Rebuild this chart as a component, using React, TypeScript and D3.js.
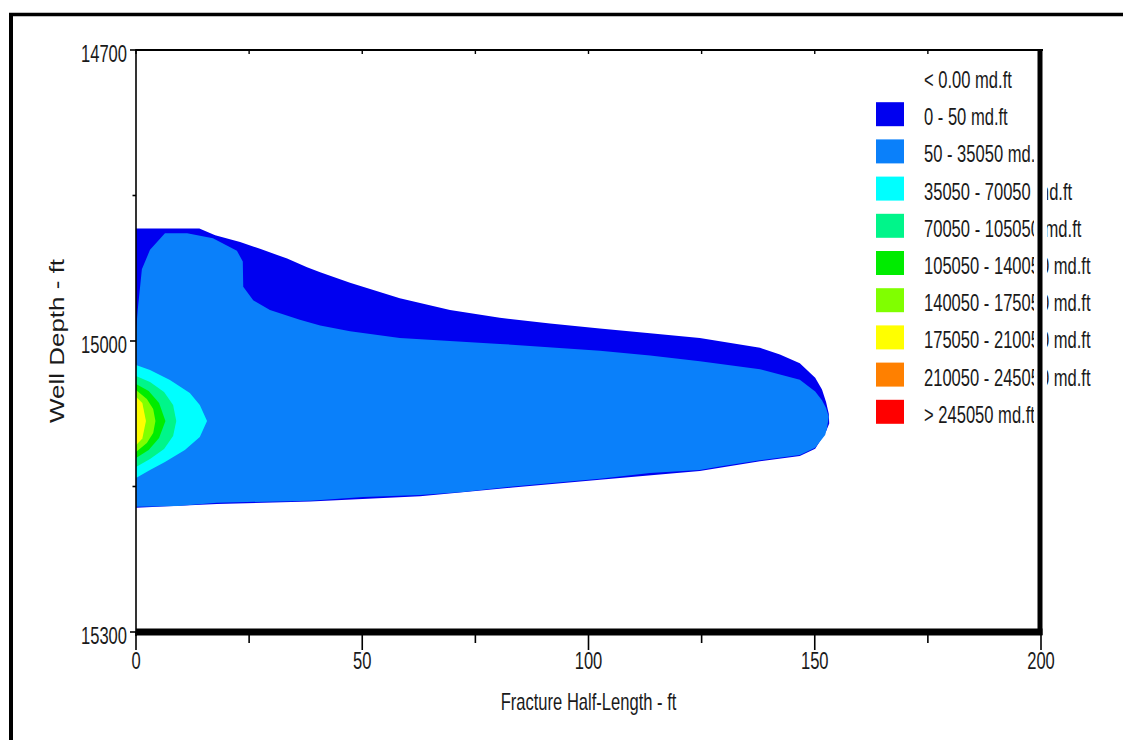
import React from "react";
import * as d3 from "d3";

// Axis domains and tick values
const halfLengthDomain = [0, 200];
const depthDomain = [14700, 15300];
const halfLengthTicks = [0, 50, 100, 150, 200];
const halfLengthMinorTicks = [25, 75, 125, 175];
const depthTicks = [14700, 15000, 15300];
const depthMinorTicks = [14850, 15150];

// Legend bins for fracture conductivity
const legendLabels = [
  "< 0.00 md.ft",
  "0 - 50 md.ft",
  "50 - 35050 md.ft",
  "35050 - 70050 md.ft",
  "70050 - 105050 md.ft",
  "105050 - 140050 md.ft",
  "140050 - 175050 md.ft",
  "175050 - 210050 md.ft",
  "210050 - 245050 md.ft",
  "> 245050 md.ft",
];
const legendColors = [
  "#ffffff",
  "#0000f0",
  "#0a80fa",
  "#00ffff",
  "#00f58a",
  "#00ec00",
  "#80ff00",
  "#ffff00",
  "#ff8000",
  "#ff0000",
];

// Contour outlines, [half-length ft, depth ft]
const zone0to50: [number, number][] = [
  [0, 14884], [14, 14884], [17.5, 14891], [23, 14898], [27.4, 14905], [33.4, 14915],
  [37.8, 14924], [40.7, 14929], [47.3, 14940], [58.3, 14956], [69.4, 14968], [80.4, 14976],
  [91.5, 14982], [102.5, 14987], [113.6, 14992], [124.6, 14997], [137.9, 15007], [142.3, 15014],
  [146.7, 15023], [150.1, 15038], [151.6, 15050], [152.5, 15063], [153.1, 15075],
  [153.2, 15085], [152.5, 15093], [150.1, 15111], [146.7, 15118.5], [137.9, 15124],
  [124.6, 15134], [102.5, 15143], [83.3, 15151], [62.8, 15160], [38.5, 15165.5],
  [17.9, 15168], [0, 15172],
];
const zone50to35050: [number, number][] = [
  [0, 14990], [0.4, 14967], [1.3, 14926], [3.1, 14906], [6.4, 14889], [11.3, 14889],
  [17, 14894], [22.3, 14907], [23.6, 14918], [23.7, 14944], [25.9, 14958], [29.6, 14968],
  [36.2, 14978], [40.7, 14984], [47.3, 14990], [58.3, 14997], [80.4, 15003], [102.5, 15010],
  [113.6, 15015], [124.6, 15021], [137.9, 15029], [146.7, 15040], [150.1, 15052],
  [151.6, 15061], [152.5, 15069], [153.1, 15078], [152.7, 15090], [152.3, 15097],
  [150.1, 15110], [146.7, 15117.5], [137.9, 15123], [129, 15129.5], [124.6, 15133],
  [113.6, 15136], [102.5, 15142], [83.3, 15150], [78.2, 15152.6], [72.3, 15155.7],
  [62.8, 15158.8], [50.2, 15160.8], [38.5, 15164.6], [17.9, 15166.7], [9.3, 15170], [0, 15171],
];
const zone35050to70050: [number, number][] = [
  [0, 15024.7], [3.1, 15029.9], [7.5, 15040.2], [11.9, 15053.6], [14.1, 15066], [15.7, 15082.5],
  [14.1, 15099], [10.8, 15112.4], [6.4, 15124.7], [3.1, 15133], [0, 15141.2],
];
const zone70050to105050: [number, number][] = [
  [0, 15036.1], [3.1, 15042.3], [6.2, 15052.6], [8.2, 15066], [8.9, 15082.5], [8.2, 15097.9],
  [6.2, 15111.3], [3.1, 15121.6], [0, 15129.9],
];
const zone105050to140050: [number, number][] = [
  [0, 15044.3], [2.8, 15051.5], [5.1, 15063.9], [6.5, 15082.5], [5.1, 15100], [2.8, 15112.4],
  [0, 15120.6],
];
const zone140050to175050: [number, number][] = [
  [0, 15050.5], [2.4, 15059.8], [3.8, 15070.1], [4.3, 15082.5], [3.8, 15094.8], [2.4, 15105.1],
  [0, 15114.4],
];
const zone175050to210050: [number, number][] = [
  [0, 15057.5], [1.4, 15064], [2.2, 15082.5], [1.4, 15100.5], [0, 15107.5],
];

const zones: { pts: [number, number][]; color: string }[] = [
  { pts: zone0to50, color: legendColors[1] },
  { pts: zone50to35050, color: legendColors[2] },
  { pts: zone35050to70050, color: legendColors[3] },
  { pts: zone70050to105050, color: legendColors[4] },
  { pts: zone105050to140050, color: legendColors[5] },
  { pts: zone140050to175050, color: legendColors[6] },
  { pts: zone175050to210050, color: legendColors[7] },
];

const W = 1123;
const H = 740;
const FONT = "'Liberation Sans', Arial, sans-serif";
const INK = "#1a1a1a";

function NarrowText(props: {
  x: number;
  y: number;
  anchor?: "start" | "middle" | "end";
  size?: number;
  children: React.ReactNode;
}) {
  const { x, y, anchor = "start", size = 23, children } = props;
  return (
    <text
      transform={`translate(${x},${y}) scale(0.72,1)`}
      textAnchor={anchor}
      fontSize={size}
      fontFamily={FONT}
      fill={INK}
    >
      {children}
    </text>
  );
}

export default function App() {
  const x = d3.scaleLinear().domain(halfLengthDomain).range([136, 1041]);
  const y = d3.scaleLinear().domain(depthDomain).range([50, 632]);
  const line = d3
    .line<[number, number]>()
    .x((d) => x(d[0]))
    .y((d) => y(d[1]))
    .curve(d3.curveLinearClosed);

  const left = x(0);
  const right = x(200);
  const top = y(14700);
  const bottom = y(15300);

  const legendX = 876;
  const legendTop = 65;
  const legendStep = 37.2;

  return (
    <svg
      width={W}
      height={H}
      style={{ position: "absolute", left: 0, top: 0, background: "#fff" }}
    >
      <rect x={0} y={0} width={W} height={H} fill="#fff" />

      {/* outer frame */}
      <line x1={9} y1={14.5} x2={W} y2={14.5} stroke="#000" strokeWidth={3.5} />
      <line x1={11} y1={13} x2={11} y2={H} stroke="#000" strokeWidth={4} />

      {/* conductivity contours */}
      {zones.map((z, i) => (
        <path key={i} d={line(z.pts) || ""} fill={z.color} stroke="none" />
      ))}

      {/* legend */}
      {legendLabels.map((lab, i) => {
        const ty = legendTop + i * legendStep;
        return (
          <g key={lab}>
            <rect x={legendX} y={ty} width={28} height={24} fill={legendColors[i]} />
            <NarrowText x={924} y={ty + 23}>
              {lab}
            </NarrowText>
          </g>
        );
      })}

      {/* axes */}
      <line x1={left} y1={top} x2={right + 2} y2={top} stroke="#000" strokeWidth={2.2} />
      <line x1={left} y1={top - 1} x2={left} y2={bottom + 4} stroke="#000" strokeWidth={1.6} />
      <rect x={right - 7} y={top + 2} width={13} height={bottom - top - 6} fill="#fff" />
      <line x1={right - 1} y1={top - 1} x2={right - 1} y2={bottom + 3} stroke="#000" strokeWidth={5} />
      <line x1={left} y1={bottom} x2={right + 1.5} y2={bottom} stroke="#000" strokeWidth={7} />

      {halfLengthTicks.map((t) => (
        <g key={"xt" + t}>
          <line x1={x(t)} y1={bottom} x2={x(t)} y2={bottom + 18} stroke="#000" strokeWidth={1.6} />
          <line x1={x(t)} y1={top} x2={x(t)} y2={top + 4} stroke="#000" strokeWidth={1.4} />
          <NarrowText x={x(t)} y={669} anchor="middle">
            {String(t)}
          </NarrowText>
        </g>
      ))}
      {halfLengthMinorTicks.map((t) => (
        <g key={"xm" + t}>
          <line x1={x(t)} y1={bottom} x2={x(t)} y2={bottom + 11} stroke="#000" strokeWidth={1.6} />
          <line x1={x(t)} y1={top} x2={x(t)} y2={top + 4} stroke="#000" strokeWidth={1.4} />
        </g>
      ))}
      {depthTicks.map((t) => (
        <g key={"yt" + t}>
          <line x1={left - 6} y1={y(t)} x2={left} y2={y(t)} stroke="#000" strokeWidth={1.6} />
          <NarrowText x={127} y={y(t) + 11.5} anchor="end">
            {String(t)}
          </NarrowText>
        </g>
      ))}
      {depthMinorTicks.map((t) => (
        <line key={"ym" + t} x1={left - 3.5} y1={y(t)} x2={left} y2={y(t)} stroke="#000" strokeWidth={1.6} />
      ))}

      {/* axis titles */}
      <NarrowText x={(left + right) / 2} y={710} anchor="middle">
        Fracture Half-Length - ft
      </NarrowText>
      <text
        transform={`translate(64,${(top + bottom) / 2}) scale(0.76,1) rotate(-90)`}
        textAnchor="middle"
        fontSize={26}
        fontFamily={FONT}
        fill={INK}
      >
        Well Depth - ft
      </text>
    </svg>
  );
}
